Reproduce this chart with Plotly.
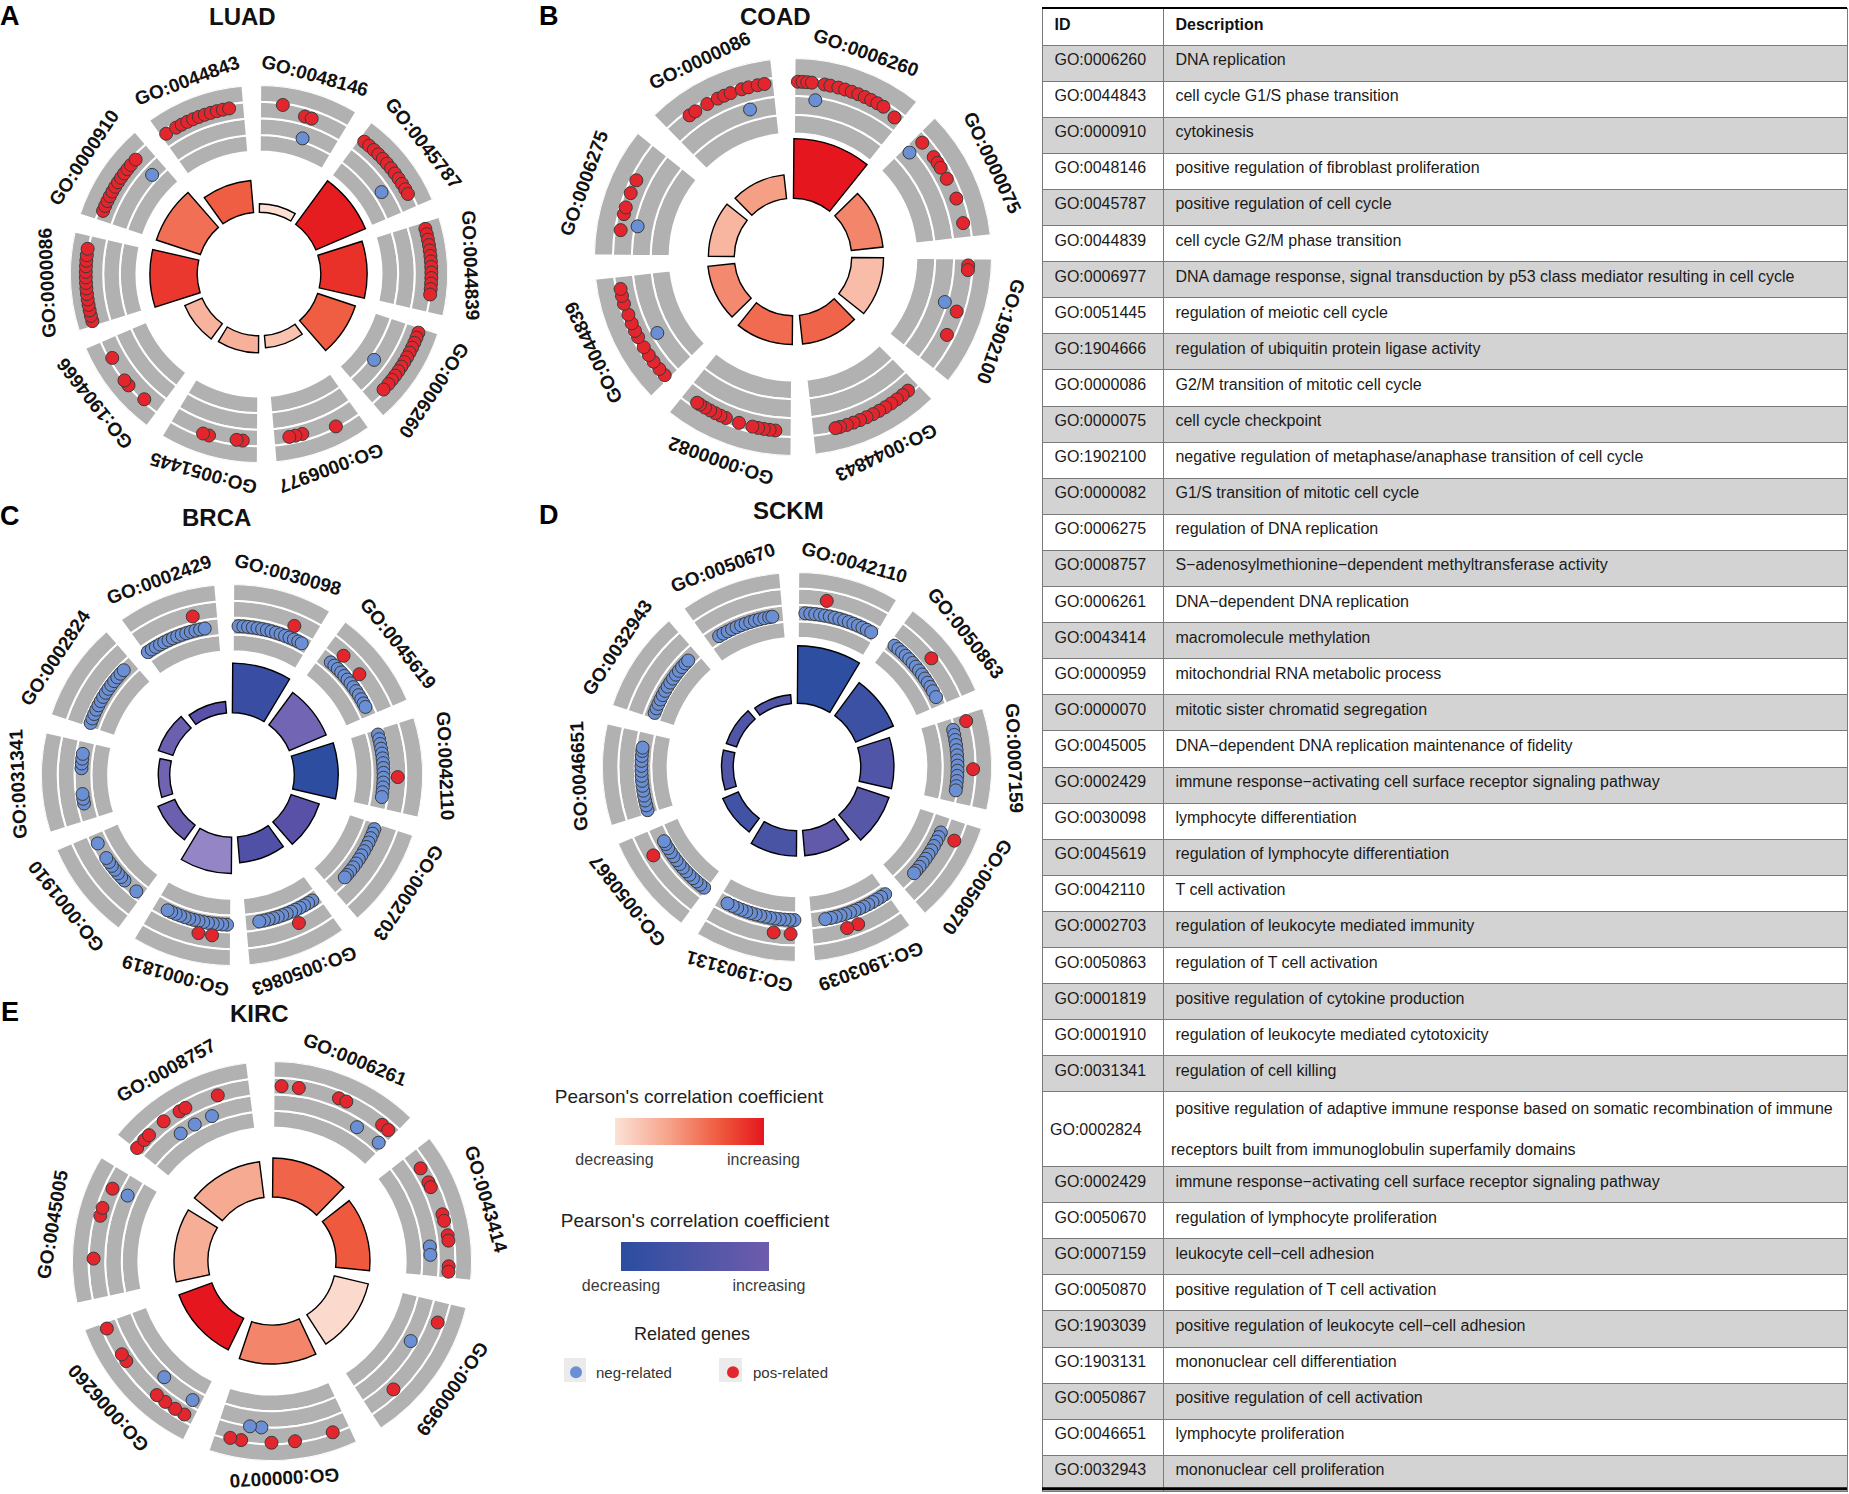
import math
import textwrap
import plotly.graph_objects as go

W_PX, H_PX = 1849, 1494
FONT = "Liberation Sans, Arial, Helvetica, sans-serif"

# ---------------- LUAD ----------------
luad_ids = ["GO:0048146", "GO:0045787", "GO:0044839", "GO:0006260", "GO:0006977",
            "GO:0051445", "GO:1904666", "GO:0000086", "GO:0000910", "GO:0044843"]
luad_bar = [0.45, 2.85, 2.45, 2.1, 0.65, 0.9, 1.0, 2.5, 2.45, 1.7]
luad_z = [0.02, 0.97, 0.88, 0.68, 0.18, 0.28, 0.27, 0.85, 0.6, 0.68]
luad_pos = [
    (0, [0.25], 2.9), (0, [0.52, 0.6], 2.5),
    (1, [0.07, 0.14, 0.21, 0.28, 0.35, 0.42, 0.49, 0.56, 0.63, 0.7, 0.77, 0.83], 2.8),
    (2, [0.08, 0.14, 0.2, 0.26, 0.32, 0.38, 0.44, 0.5, 0.56, 0.62, 0.68, 0.74, 0.8], 3.0),
    (3, [0.06, 0.12, 0.18, 0.24, 0.3, 0.36, 0.42, 0.48, 0.54, 0.6, 0.66, 0.72, 0.8], 2.85),
    (4, [0.29], 2.9), (4, [0.67, 0.75, 0.82], 2.6),
    (5, [0.17, 0.24], 2.7), (5, [0.55, 0.62], 2.8),
    (6, [0.2], 2.85), (6, [0.43, 0.5], 2.95), (6, [0.78], 2.8),
    (7, [0.06, 0.12, 0.18, 0.24, 0.3, 0.36, 0.42, 0.48, 0.54, 0.6, 0.66, 0.72, 0.78, 0.85], 3.05),
    (8, [0.12, 0.18, 0.24, 0.3, 0.36, 0.42, 0.48, 0.54, 0.6, 0.66, 0.72, 0.8], 2.75),
    (9, [0.07], 2.75), (9, [0.2, 0.27, 0.34, 0.41, 0.48, 0.55, 0.62, 0.69, 0.76, 0.83], 2.75),
]
luad_neg = [(0, [0.57], 1.2), (1, [0.65], 1.5), (3, [0.6], 1.27), (8, [0.8], 1.4)]

# ---------------- COAD ----------------
coad_ids = ["GO:0006260", "GO:0000075", "GO:1902100", "GO:0044843",
            "GO:0000082", "GO:0044839", "GO:0006275", "GO:0000086"]
coad_bar = [3.0, 1.6, 1.6, 1.45, 1.45, 1.35, 1.3, 1.2]
coad_z = [1.0, 0.5, 0.22, 0.65, 0.62, 0.48, 0.25, 0.38]
coad_pos = [
    (0, [0.03, 0.07, 0.11, 0.15, 0.26, 0.31, 0.38, 0.44, 0.5, 0.56, 0.62, 0.68, 0.74, 0.8], 2.75),
    (0, [0.93], 2.6),
    (1, [0.08], 2.6), (1, [0.24, 0.3, 0.35], 2.6), (1, [0.46], 2.6), (1, [0.65], 2.65), (1, [0.87], 2.65),
    (2, [0.06, 0.1], 2.75), (2, [0.47], 2.6), (2, [0.69], 2.6),
    (3, [0.1, 0.16, 0.22, 0.28, 0.34, 0.4, 0.46, 0.52, 0.58, 0.64, 0.7, 0.76, 0.8], 2.8),
    (4, [0.14, 0.19, 0.24, 0.29, 0.34], 2.7), (4, [0.46], 2.7),
    (4, [0.58, 0.63, 0.68, 0.73, 0.78, 0.83, 0.86], 2.7),
    (5, [0.05, 0.12, 0.2, 0.27, 0.35], 2.7), (5, [0.45, 0.51, 0.58, 0.66], 2.7), (5, [0.76, 0.83, 0.89], 2.75),
    (6, [0.22], 2.7), (6, [0.36, 0.42], 2.7), (6, [0.55], 2.7), (6, [0.67], 2.7),
    (7, [0.22, 0.28], 2.75), (7, [0.4], 2.75), (7, [0.5, 0.56, 0.62], 2.75),
    (7, [0.72, 0.78], 2.75), (7, [0.86, 0.92], 2.75),
]
coad_neg = [(0, [0.2], 1.85), (1, [0.07], 1.75), (2, [0.42], 1.85),
            (5, [0.4], 1.7), (6, [0.28], 1.85), (7, [0.74], 1.6)]

# ---------------- BRCA ----------------
brca_ids = ["GO:0030098", "GO:0045619", "GO:0042110", "GO:0002703", "GO:0050863",
            "GO:0001819", "GO:0001910", "GO:0031341", "GO:0002824", "GO:0002429"]
brca_bar = [2.6, 2.1, 2.3, 1.55, 1.35, 1.9, 0.95, 0.6, 0.8, 0.6]
brca_z = [0.12, 0.6, 0.02, 0.4, 0.33, 0.85, 0.55, 0.58, 0.55, 0.4]
brca_neg = [
    (0, [0.07, 0.13, 0.19, 0.25, 0.31, 0.37, 0.43, 0.49, 0.55, 0.61, 0.67, 0.73, 0.79, 0.85, 0.9], 1.5),
    (1, [0.16, 0.22, 0.28, 0.34, 0.4, 0.46, 0.52, 0.58, 0.64, 0.7, 0.76, 0.82, 0.87], 1.55),
    (2, [0.07, 0.13, 0.19, 0.25, 0.31, 0.37, 0.43, 0.49, 0.55, 0.61, 0.67, 0.73, 0.79, 0.85], 1.65),
    (3, [0.08, 0.14, 0.2, 0.26, 0.32, 0.38, 0.44, 0.5, 0.56, 0.62, 0.68, 0.74, 0.78], 1.7),
    (4, [0.1, 0.16, 0.22, 0.28, 0.34, 0.4, 0.46, 0.52, 0.58, 0.64, 0.7, 0.76, 0.82], 1.5),
    (5, [0.05, 0.11, 0.17, 0.23, 0.29, 0.35, 0.41, 0.47, 0.53, 0.59, 0.65, 0.71, 0.77, 0.82], 1.55),
    (6, [0.1], 1.6), (6, [0.3, 0.36, 0.42, 0.48, 0.54, 0.6, 0.66], 1.6), (6, [0.87], 1.6),
    (7, [0.22, 0.28, 0.34], 1.6), (7, [0.66, 0.72, 0.78, 0.84], 1.6),
    (8, [0.06, 0.12, 0.18, 0.24, 0.3, 0.36, 0.42, 0.48, 0.54, 0.6, 0.66, 0.72, 0.78, 0.84], 1.6),
    (9, [0.04, 0.1, 0.16, 0.22, 0.28, 0.34, 0.4, 0.46, 0.52, 0.58, 0.64, 0.7, 0.76, 0.82], 1.5),
]
brca_pos = [(0, [0.73], 2.25), (1, [0.22], 2.35), (1, [0.5], 2.3), (2, [0.6], 2.5),
            (4, [0.37], 2.3), (5, [0.22, 0.38], 2.25), (9, [0.71], 2.35)]

# ---------------- SCKM ----------------
sckm_ids = ["GO:0042110", "GO:0050863", "GO:0007159", "GO:0050870", "GO:1903039",
            "GO:1903131", "GO:0050867", "GO:0046651", "GO:0032943", "GO:0050670"]
sckm_bar = [2.95, 2.1, 1.7, 1.7, 1.3, 1.3, 0.87, 0.6, 0.55, 0.45]
sckm_z = [0.05, 0.25, 0.55, 0.65, 0.8, 0.45, 0.35, 0.55, 0.55, 0.55]
sckm_neg = [
    (0, [0.09, 0.15, 0.21, 0.27, 0.33, 0.39, 0.45, 0.51, 0.57, 0.63, 0.69, 0.75, 0.81, 0.87, 0.93], 1.5),
    (1, [0.08, 0.14, 0.2, 0.26, 0.32, 0.38, 0.44, 0.5, 0.56, 0.62, 0.68, 0.74, 0.8, 0.88], 1.6),
    (2, [0.14, 0.2, 0.26, 0.32, 0.38, 0.44, 0.5, 0.56, 0.62, 0.68, 0.74, 0.8, 0.85], 1.9),
    (3, [0.2, 0.26, 0.32, 0.38, 0.44, 0.5, 0.56, 0.62, 0.68, 0.74, 0.78], 1.75),
    (4, [0.03, 0.09, 0.15, 0.21, 0.27, 0.33, 0.39, 0.45, 0.51, 0.57, 0.63, 0.69, 0.75, 0.82], 1.55),
    (5, [0.02, 0.08, 0.14, 0.2, 0.26, 0.32, 0.38, 0.44, 0.5, 0.56, 0.62, 0.68, 0.74, 0.8, 0.87], 1.45),
    (6, [0.04, 0.1, 0.16, 0.22, 0.28, 0.34, 0.4, 0.46, 0.52, 0.58, 0.64, 0.7, 0.76, 0.8], 1.4),
    (7, [0.05, 0.11, 0.17, 0.23, 0.29, 0.35, 0.41, 0.47, 0.53, 0.59, 0.65, 0.71, 0.77, 0.81], 1.6),
    (8, [0.08, 0.14, 0.2, 0.26, 0.32, 0.38, 0.44, 0.5, 0.56, 0.62, 0.68, 0.74, 0.8, 0.85], 1.4),
    (9, [0.16, 0.22, 0.28, 0.34, 0.4, 0.46, 0.52, 0.58, 0.64, 0.7, 0.76, 0.82, 0.86], 1.4),
]
sckm_pos = [(0, [0.32], 2.4), (1, [0.48], 2.65), (2, [0.08], 2.8), (2, [0.6], 2.85),
            (3, [0.22], 2.7), (4, [0.47, 0.6], 2.4), (5, [0.06], 2.3), (5, [0.25], 2.3),
            (6, [0.72], 2.4)]

# ---------------- KIRC ----------------
kirc_ids = ["GO:0006261", "GO:0043414", "GO:0000959", "GO:0000070",
            "GO:0006260", "GO:0045005", "GO:0008757"]
kirc_bar = [1.95, 1.7, 1.75, 1.95, 1.75, 1.7, 1.8]
kirc_z = [0.65, 0.7, 0.05, 0.5, 1.0, 0.3, 0.32]
kirc_pos = [
    (0, [0.06], 2.5), (0, [0.19], 2.5), (0, [0.5, 0.56], 2.55), (0, [0.88, 0.94], 2.5),
    (1, [0.14], 2.5), (1, [0.26, 0.3], 2.5), (1, [0.52, 0.57], 2.6), (1, [0.68, 0.72], 2.65),
    (1, [0.91, 0.95], 2.6),
    (2, [0.16], 2.6), (2, [0.76], 2.6),
    (3, [0.13], 2.9), (3, [0.41], 2.9), (3, [0.58], 2.9), (3, [0.8, 0.88], 2.9),
    (4, [0.08, 0.16, 0.25, 0.33], 2.6), (4, [0.67, 0.73], 2.6), (4, [0.95], 2.7),
    (5, [0.3], 2.7), (5, [0.62, 0.68], 2.65), (5, [0.84], 2.5),
    (6, [0.02], 2.55), (6, [0.1, 0.15], 2.55), (6, [0.3], 2.6), (6, [0.44, 0.49], 2.55),
    (6, [0.75], 2.45),
]
kirc_neg = [(0, [0.73], 1.5), (0, [0.95], 1.55), (1, [0.75, 0.82], 1.5), (2, [0.38], 1.6),
            (3, [0.66, 0.75], 2.0), (4, [0.08], 1.6), (4, [0.38], 1.5), (5, [0.84], 1.5),
            (6, [0.35], 1.4), (6, [0.49], 1.4), (6, [0.65], 1.4)]

# ---------------- table ----------------
table_ids = ["GO:0006260", "GO:0044843", "GO:0000910", "GO:0048146", "GO:0045787",
             "GO:0044839", "GO:0006977", "GO:0051445", "GO:1904666", "GO:0000086",
             "GO:0000075", "GO:1902100", "GO:0000082", "GO:0006275", "GO:0008757",
             "GO:0006261", "GO:0043414", "GO:0000959", "GO:0000070", "GO:0045005",
             "GO:0002429", "GO:0030098", "GO:0045619", "GO:0042110", "GO:0002703",
             "GO:0050863", "GO:0001819", "GO:0001910", "GO:0031341", "GO:0002824",
             "GO:0002429", "GO:0050670", "GO:0007159", "GO:0050870", "GO:1903039",
             "GO:1903131", "GO:0050867", "GO:0046651", "GO:0032943"]
table_desc = [
    "DNA replication", "cell cycle G1/S phase transition", "cytokinesis",
    "positive regulation of fibroblast proliferation", "positive regulation of cell cycle",
    "cell cycle G2/M phase transition",
    "DNA damage response, signal transduction by p53 class mediator resulting in cell cycle",
    "regulation of meiotic cell cycle", "regulation of ubiquitin protein ligase activity",
    "G2/M transition of mitotic cell cycle", "cell cycle checkpoint",
    "negative regulation of metaphase/anaphase transition of cell cycle",
    "G1/S transition of mitotic cell cycle", "regulation of DNA replication",
    "S\u2212adenosylmethionine\u2212dependent methyltransferase activity",
    "DNA\u2212dependent DNA replication", "macromolecule methylation",
    "mitochondrial RNA metabolic process", "mitotic sister chromatid segregation",
    "DNA\u2212dependent DNA replication maintenance of fidelity",
    "immune response\u2212activating cell surface receptor signaling pathway",
    "lymphocyte differentiation", "regulation of lymphocyte differentiation", "T cell activation",
    "regulation of leukocyte mediated immunity", "regulation of T cell activation",
    "positive regulation of cytokine production", "regulation of leukocyte mediated cytotoxicity",
    "regulation of cell killing",
    "positive regulation of adaptive immune response based on somatic recombination of immune "
    "receptors built from immunoglobulin superfamily domains",
    "immune response\u2212activating cell surface receptor signaling pathway",
    "regulation of lymphocyte proliferation", "leukocyte cell\u2212cell adhesion",
    "positive regulation of T cell activation",
    "positive regulation of leukocyte cell\u2212cell adhesion", "mononuclear cell differentiation",
    "positive regulation of cell activation", "lymphocyte proliferation",
    "mononuclear cell proliferation",
]

RED_DOT = "#E3262D"
BLUE_DOT = "#6A8FD5"
GRAY = "#B1B1B1"
REDS = [[0, "#FCE2D7"], [0.35, "#F6A58C"], [0.7, "#EF5A3E"], [1, "#E5161D"]]
BRCA_SCALE = [[0, "#2B4DA0"], [0.45, "#5E52A8"], [1, "#A898D2"]]
SCKM_SCALE = [[0, "#2B4DA0"], [1, "#6E5CAC"]]

panels = [
    dict(letter="A", title="LUAD", ids=luad_ids, bar=luad_bar, z=luad_z, pos=luad_pos, neg=luad_neg,
         cx=259, cy=274, R=189, hole=3.27, band=6.48, scale=REDS,
         letter_xy=(10, 16), title_xy=(242, 16)),
    dict(letter="B", title="COAD", ids=coad_ids, bar=coad_bar, z=coad_z, pos=coad_pos, neg=coad_neg,
         cx=793, cy=257, R=199, hole=2.95, band=6.2, scale=REDS,
         letter_xy=(549, 16), title_xy=(775, 16)),
    dict(letter="C", title="BRCA", ids=brca_ids, bar=brca_bar, z=brca_z, pos=brca_pos, neg=brca_neg,
         cx=232, cy=775, R=191, hole=3.26, band=6.48, scale=BRCA_SCALE,
         letter_xy=(10, 516), title_xy=(216, 517)),
    dict(letter="D", title="SCKM", ids=sckm_ids, bar=sckm_bar, z=sckm_z, pos=sckm_pos, neg=sckm_neg,
         cx=797, cy=767, R=195, hole=3.27, band=6.63, scale=SCKM_SCALE,
         letter_xy=(549, 515), title_xy=(788, 510)),
    dict(letter="E", title="KIRC", ids=kirc_ids, bar=kirc_bar, z=kirc_z, pos=kirc_pos, neg=kirc_neg,
         cx=272, cy=1261, R=200, hole=3.2, band=6.68, scale=REDS,
         letter_xy=(10, 1012), title_xy=(259, 1013)),
]


def px(x, y):
    return x / W_PX, 1 - y / H_PX


def corr_colorbar(xc, y_bottom, length, thick):
    return dict(orientation="h", x=xc / W_PX, xanchor="center", y=1 - y_bottom / H_PX, yanchor="bottom",
                len=length, lenmode="pixels", thickness=thick, outlinewidth=0, xpad=0, ypad=0,
                tickvals=[0, 1], ticktext=["decreasing", "increasing"], ticks="",
                tickfont=dict(family=FONT, size=16, color="#3a3a3a"),
                title=dict(text="Pearson's correlation coefficient", side="top",
                           font=dict(family=FONT, size=19, color="#222")))


fig = go.Figure()
annotations = []
polar_layouts = {}

for i, p in enumerate(panels):
    sub = "polar" if i == 0 else f"polar{i + 1}"
    n = len(p["ids"])
    wseg = 360 / n
    width = 0.85 * wseg
    centers = [k * wseg + 0.01 * wseg + width / 2 for k in range(n)]
    track = (10 - p["band"]) / 4

    # grey rings, four tracks per term
    t_theta, t_base = [], []
    for k in range(n):
        for t in range(4):
            t_theta.append(centers[k])
            t_base.append(p["band"] + t * track)
    fig.add_trace(go.Barpolar(
        theta=t_theta, r=[track] * len(t_theta), base=t_base, width=[width] * len(t_theta),
        marker=dict(color=GRAY, line=dict(color="white", width=2)),
        subplot=sub, showlegend=False, hoverinfo="skip"))

    # inner bars coloured by correlation
    cbar = None
    if p["title"] == "LUAD":
        cbar = corr_colorbar(689, 1162, 149, 27)
    if p["title"] == "SCKM":
        cbar = corr_colorbar(695, 1288, 148, 29)
    fig.add_trace(go.Barpolar(
        theta=centers, r=p["bar"], base=[p["hole"]] * n, width=[width] * n,
        marker=dict(color=p["z"], colorscale=p["scale"], cmin=0, cmax=1,
                    line=dict(color="black", width=1.4),
                    showscale=cbar is not None, colorbar=cbar),
        subplot=sub, showlegend=False, hoverinfo="skip"))

    # related genes
    for groups, col in ((p["neg"], BLUE_DOT), (p["pos"], RED_DOT)):
        rr, tt = [], []
        for seg, fracs, lvl in groups:
            for f in fracs:
                tt.append(seg * wseg + 0.01 * wseg + f * width)
                rr.append(p["band"] + lvl * track)
        fig.add_trace(go.Scatterpolar(
            r=rr, theta=tt, mode="markers",
            marker=dict(color=col, size=13, line=dict(color="#3a3a3a", width=1)),
            subplot=sub, showlegend=False, hoverinfo="skip"))

    R = p["R"]
    polar_layouts[sub] = dict(
        domain=dict(x=[(p["cx"] - R) / W_PX, (p["cx"] + R) / W_PX],
                    y=[1 - (p["cy"] + R) / H_PX, 1 - (p["cy"] - R) / H_PX]),
        bgcolor="rgba(0,0,0,0)", hole=0,
        radialaxis=dict(visible=False, range=[0, 10]),
        angularaxis=dict(visible=False, direction="clockwise", rotation=90),
    )

    # term labels around the circle
    for k, go_id in enumerate(p["ids"]):
        th = centers[k]
        s, c = math.sin(math.radians(th)), math.cos(math.radians(th))
        rl = R + 17 + 6 * s * s
        x, y = px(p["cx"] + rl * s, p["cy"] - rl * c)
        ang = th if th <= 180 else th - 360
        annotations.append(dict(x=x, y=y, xref="paper", yref="paper", text=f"<b>{go_id}</b>",
                                showarrow=False, textangle=ang, xanchor="center", yanchor="middle",
                                font=dict(family=FONT, size=19, color="#111")))

    lx, ly = px(*p["letter_xy"])
    annotations.append(dict(x=lx, y=ly, xref="paper", yref="paper", text=f"<b>{p['letter']}</b>",
                            showarrow=False, xanchor="center", yanchor="middle",
                            font=dict(family=FONT, size=27, color="black")))
    tx, ty = px(*p["title_xy"])
    annotations.append(dict(x=tx, y=ty, xref="paper", yref="paper", text=f"<b>{p['title']}</b>",
                            showarrow=False, xanchor="center", yanchor="middle",
                            font=dict(family=FONT, size=24, color="#111")))

# legend for related genes
gx, gy = px(692, 1334)
annotations.append(dict(x=gx, y=gy, xref="paper", yref="paper", text="Related genes", showarrow=False,
                        xanchor="center", yanchor="middle", font=dict(family=FONT, size=18, color="#222")))
fig.add_trace(go.Scatterpolar(r=[None], theta=[None], mode="markers", name="neg-related",
                              marker=dict(color=BLUE_DOT, size=11), subplot="polar"))
fig.add_trace(go.Scatterpolar(r=[None], theta=[None], mode="markers", name="pos-related",
                              marker=dict(color=RED_DOT, size=11), subplot="polar"))

# GO term table
row_h = 36.1
cells_desc = ["<br> <br>".join(textwrap.wrap(d, 88)) if len(d) > 88 else d for d in table_desc]
cells_id = ["\u00a0<br>" + g if len(d) > 88 else g for g, d in zip(table_ids, table_desc)]
cells_desc = ["\u00a0" + d for d in cells_desc]
cells_id = ["\u00a0" + g for g in cells_id]
fills = ["#D3D3D3" if i % 2 == 0 else "white" for i in range(len(table_ids))]
fig.add_trace(go.Table(
    domain=dict(x=[1042 / W_PX, 1847 / W_PX], y=[0, 1 - 8 / H_PX]),
    columnwidth=[121, 684],
    header=dict(values=["\u00a0<b>ID</b>", "\u00a0<b>Description</b>"], align="left", height=37,
                fill_color="white", line=dict(color="#7a7a7a", width=1),
                font=dict(family=FONT, size=16, color="#111")),
    cells=dict(values=[cells_id, cells_desc], align="left", height=row_h,
               fill_color=[fills, fills], line=dict(color="#7a7a7a", width=1),
               font=dict(family=FONT, size=16, color="#1a1a1a")),
))

table_bottom = 8 + 37 + row_h * (len(table_ids) - 1) + 72
shapes = [
    dict(type="line", xref="paper", yref="paper", x0=1042 / W_PX, x1=1847 / W_PX,
         y0=1 - 8 / H_PX, y1=1 - 8 / H_PX, line=dict(color="black", width=2)),
    dict(type="line", xref="paper", yref="paper", x0=1042 / W_PX, x1=1847 / W_PX,
         y0=1 - table_bottom / H_PX, y1=1 - table_bottom / H_PX, line=dict(color="black", width=3)),
    dict(type="rect", xref="paper", yref="paper", x0=564 / W_PX, x1=586 / W_PX,
         y0=1 - 1382 / H_PX, y1=1 - 1358 / H_PX, fillcolor="#EBEBEB", line=dict(width=0), layer="below"),
    dict(type="rect", xref="paper", yref="paper", x0=719 / W_PX, x1=742 / W_PX,
         y0=1 - 1382 / H_PX, y1=1 - 1358 / H_PX, fillcolor="#EBEBEB", line=dict(width=0), layer="below"),
]

fig.update_layout(
    width=W_PX, height=H_PX, autosize=False,
    margin=dict(l=0, r=0, t=0, b=0),
    paper_bgcolor="white", plot_bgcolor="white",
    font=dict(family=FONT, color="#222"),
    annotations=annotations, shapes=shapes,
    showlegend=True,
    legend=dict(orientation="h", x=556 / W_PX, y=1 - 1356 / H_PX, xanchor="left", yanchor="top",
                font=dict(family=FONT, size=15, color="#333"), entrywidth=112, entrywidthmode="pixels",
                itemsizing="constant", bgcolor="rgba(0,0,0,0)"),
    **polar_layouts,
)

fig.write_html("out.html", config={"displayModeBar": False},
               post_script="document.body.style.margin='0';")
